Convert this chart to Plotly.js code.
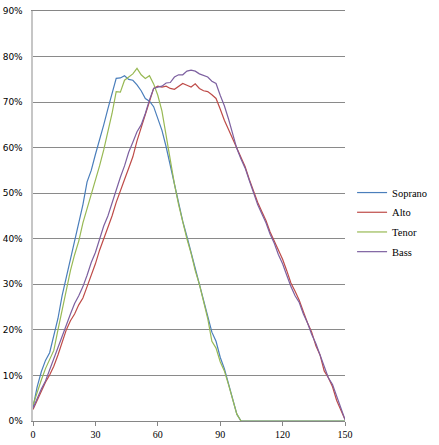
<!DOCTYPE html>
<html>
<head>
<meta charset="utf-8">
<script src="https://cdn.plot.ly/plotly-3.0.1.min.js"></script>
<style>html,body{margin:0;padding:0;background:#fff;}#chart{width:439px;height:445px;}</style>
</head>
<body>
<div id="chart"></div>
<script>
const xValues = [0,2,4,6,8,10,12,14,16,18,20,22,24,26,28,30,32,34,36,38,40,42,44,46,48,50,52,54,56,58,60,62,64,66,68,70,72,74,76,78,80,82,84,86,88,90,92,94,96,98,100,102,104,106,108,110,112,114,116,118,120,122,124,126,128,130,132,134,136,138,140,142,144,146,148,150];

const soprano = [3.0,7.5,10.8,13.3,15.0,19.0,22.5,27.5,31.5,35.5,40.0,43.5,47.5,52.5,55.0,58.5,61.6,65.0,68.5,72.0,75.2,75.3,75.8,75.0,74.8,73.8,72.5,70.8,70.2,69.0,66.5,63.8,60.2,56.0,51.5,47.5,43.8,40.5,37.0,33.5,30.0,26.5,23.0,19.5,17.5,14.0,11.5,8.0,5.0,1.5,0,0,0,0,0,0,0,0,0,0,0,0,0,0,0,0,0,0,0,0,0,0,0,0,0,0];

const alto = [2.5,4.5,6.5,8.5,10.1,12.0,14.5,17.5,20.0,22.0,23.5,25.5,27.0,29.5,32.0,34.5,37.5,40.0,42.5,45.0,48.0,50.3,53.0,55.5,58.0,61.5,64.5,67.5,70.5,73.0,73.5,73.3,73.5,73.0,72.8,73.5,74.1,73.7,73.3,74.0,73.0,72.5,72.3,71.6,70.8,68.5,66.0,64.0,62.0,59.8,58.0,55.8,53.0,50.5,48.0,46.0,44.0,41.5,39.5,37.5,35.5,33.0,30.3,28.5,26.5,24.0,21.5,19.5,16.5,14.5,11.0,9.5,7.5,4.5,2.5,0.3];

const tenor = [3.5,6.5,9.0,11.5,13.5,15.5,20.0,24.5,29.0,33.0,36.5,39.5,43.5,46.5,49.5,52.5,56.0,59.5,63.5,67.5,72.3,72.2,74.8,75.5,76.2,77.4,76.0,75.2,75.8,74.0,71.5,68.0,62.5,57.0,52.0,47.5,43.5,40.0,36.8,33.0,30.0,26.5,22.5,17.5,16.0,13.0,11.0,8.0,5.0,1.5,0,0,0,0,0,0,0,0,0,0,0,0,0,0,0,0,0,0,0,0,0,0,0,0,0,0];

const bass = [2.8,5.0,7.0,8.8,11.2,13.5,15.8,18.5,21.0,23.5,25.8,27.5,29.5,32.0,34.8,37.0,40.0,42.8,45.0,48.0,50.5,53.5,56.0,59.0,61.2,63.5,65.0,67.5,70.5,73.0,73.3,73.5,74.2,74.3,75.5,76.0,76.0,76.8,77.0,76.8,76.2,75.8,75.5,74.6,74.1,71.5,69.2,66.3,63.0,59.8,57.5,55.5,52.8,50.0,47.5,45.5,43.5,41.0,39.0,36.5,34.5,32.0,29.5,27.5,26.0,23.5,21.5,19.0,17.0,14.5,12.0,9.5,8.0,5.5,3.0,0.3];

const seriesNames = ["Soprano","Alto","Tenor","Bass"];
const seriesColors = ["#4A7EBB","#BE4B48","#98B954","#7D60A0"];
const seriesData = [soprano, alto, tenor, bass];
const xTicks = [0,30,60,90,120,150];
const yTicks = [0,10,20,30,40,50,60,70,80,90];
const yTickText = yTicks.map(v => v + "%");

const traces = seriesData.map((ys, i) => ({
  x: xValues,
  y: ys,
  type: "scatter",
  mode: "lines",
  name: seriesNames[i],
  legendgroup: "g" + i,
  line: {color: seriesColors[i], width: 1.2}
}));

const layout = {
  width: 439,
  height: 445,
  margin: {l: 33, r: 94, t: 11, b: 24, pad: 0, autoexpand: false},
  paper_bgcolor: "#ffffff",
  plot_bgcolor: "#ffffff",
  showlegend: true,
  legend: {
    xref: "container",
    x: 0.802, xanchor: "left",
    y: 0.484, yanchor: "middle",
    font: {family: "Liberation Serif, Times New Roman, serif", size: 10.5, color: "#000"},
    itemwidth: 30,
    tracegroupgap: 0.7,
    bgcolor: "rgba(0,0,0,0)"
  },
  xaxis: {
    range: [0, 150],
    tickvals: xTicks,
    ticktext: xTicks.map(String),
    showgrid: false,
    zeroline: false,
    showline: true,
    mirror: true,
    linecolor: "#868686",
    linewidth: 1,
    ticks: "outside",
    ticklen: 4,
    tickcolor: "#868686",
    tickfont: {family: "Liberation Serif, Times New Roman, serif", size: 10, color: "#000"}
  },
  yaxis: {
    range: [0, 90],
    tickvals: yTicks,
    ticktext: yTickText,
    showgrid: true,
    gridcolor: "#8a8a8a",
    gridwidth: 1,
    zeroline: false,
    showline: true,
    linecolor: "#c6c6c6",
    linewidth: 2.5,
    ticks: "outside",
    ticklen: 6,
    tickcolor: "rgba(0,0,0,0)",
    tickfont: {family: "DejaVu Sans, Verdana, sans-serif", size: 9, color: "#000"}
  }
};

Plotly.newPlot("chart", traces, layout, {displayModeBar: false, staticPlot: true});
</script>
</body>
</html>
